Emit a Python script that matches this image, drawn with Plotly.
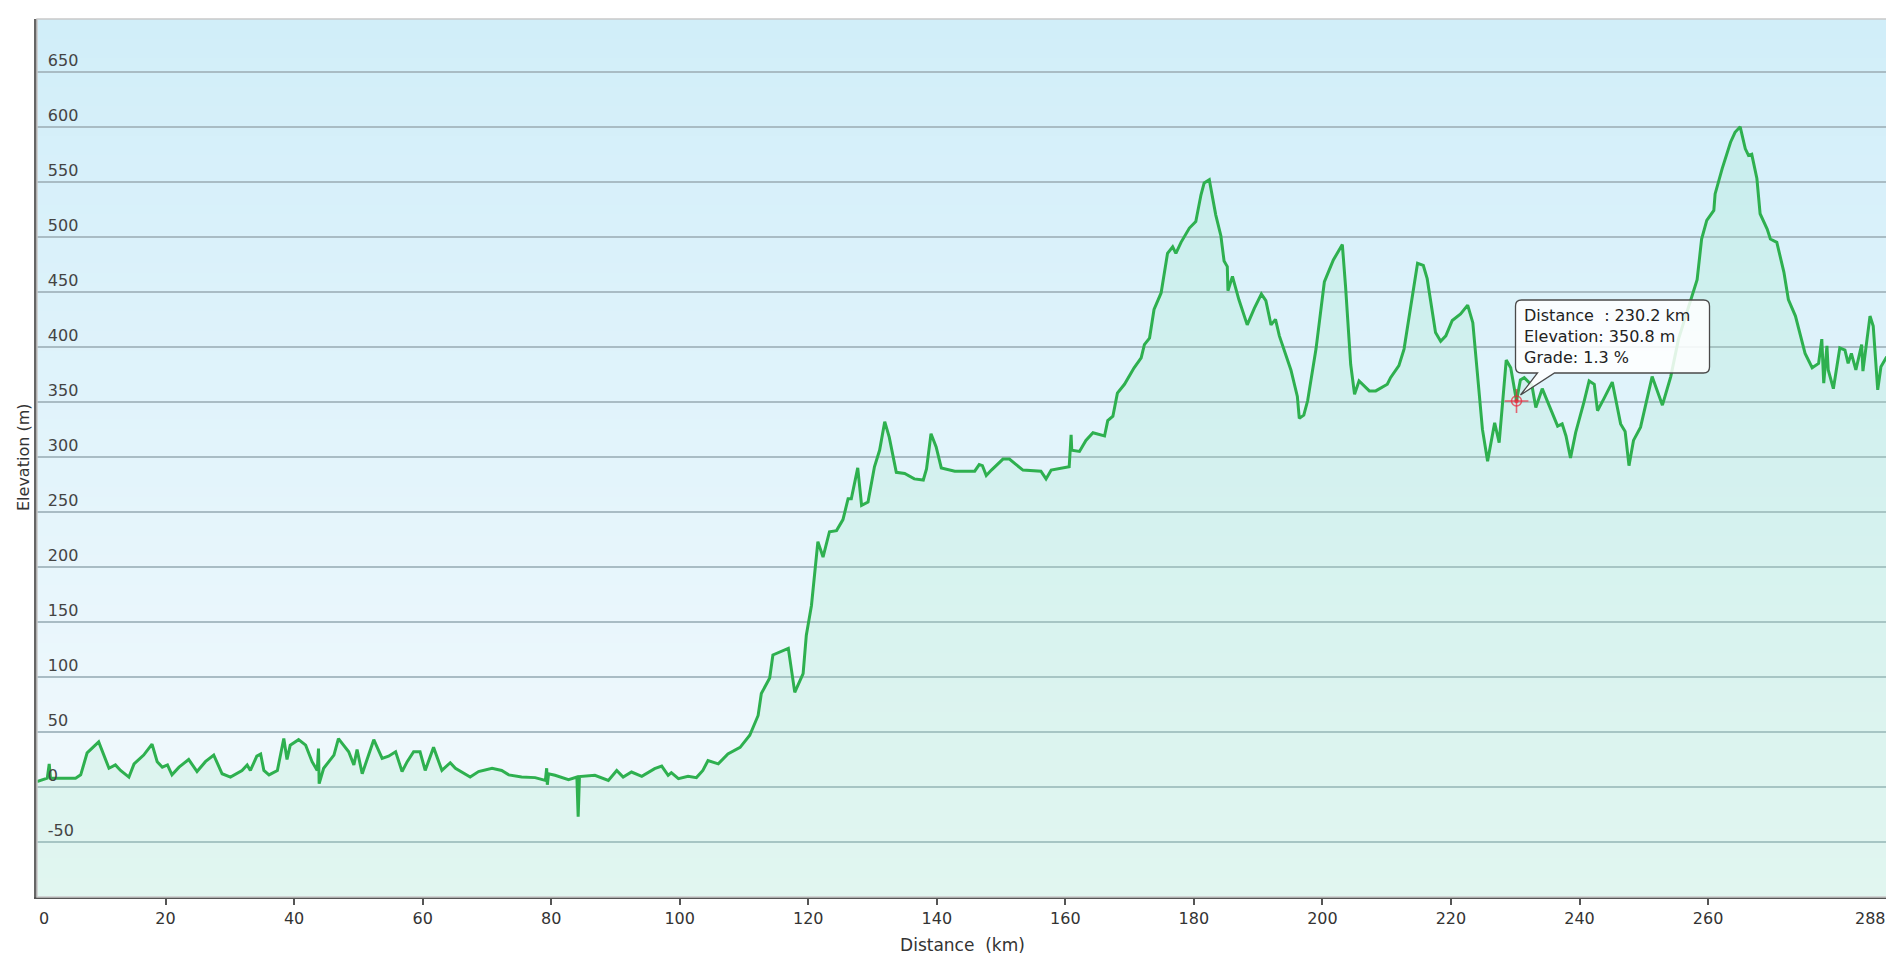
import numpy as np
import plotly.graph_objects as go

# elevation profile
distance_km = [
    0.0, 1.6, 1.9, 2.1, 2.9, 6.0, 6.8, 7.8, 9.6, 11.2, 12.2, 13.0, 14.3, 15.1, 16.6, 17.9,
    18.7, 19.5, 20.3, 21.0, 22.1, 23.6, 24.9, 26.2, 27.5, 28.8, 30.1, 31.9, 32.7, 33.2, 34.2,
    34.8, 35.3, 36.1, 37.4, 38.4, 38.9, 39.4, 40.7, 41.8, 42.8, 43.6, 43.8, 43.9, 44.6, 46.2,
    46.9, 48.5, 49.3, 49.8, 50.6, 51.6, 52.4, 53.7, 54.7, 55.8, 56.8, 57.6, 58.6, 59.6, 60.4,
    61.7, 63.0, 64.3, 65.1, 67.4, 68.7, 70.8, 72.3, 73.4, 75.4, 77.5, 79.1, 79.3, 79.4, 79.6,
    80.6, 82.7, 84.0, 84.2, 84.4, 86.8, 88.9, 90.2, 91.2, 92.5, 94.1, 96.1, 97.2, 98.2, 98.7,
    99.8, 101.3, 102.6, 103.6, 104.4, 106.0, 107.5, 109.4, 110.9, 112.2, 112.7, 114.0, 114.5,
    116.9, 117.9, 119.2, 119.7, 120.5, 121.5, 122.3, 123.3, 124.4, 125.4, 126.2, 126.7, 127.7,
    128.3, 129.3, 130.3, 131.1, 131.9, 132.6, 133.7, 135.0, 136.5, 137.9, 138.4, 139.1, 139.9,
    140.7, 142.8, 145.9, 146.6, 147.1, 147.7, 148.5, 150.3, 151.3, 153.4, 156.2, 157.0, 157.8,
    160.6, 160.9, 161.0, 162.2, 163.2, 164.3, 166.1, 166.6, 167.4, 168.1, 169.2, 170.7, 171.8,
    172.3, 173.1, 173.8, 174.9, 175.9, 176.7, 177.2, 178.0, 179.3, 180.3, 181.1, 181.6, 182.4,
    183.4, 184.2, 184.7, 185.2, 185.3, 186.0, 187.0, 188.3, 189.4, 190.5, 191.2, 192.0, 192.7,
    193.3, 195.1, 196.1, 196.4, 197.1, 197.7, 199.0, 200.3, 201.7, 203.1, 203.6, 204.4, 205.0,
    205.7, 207.3, 208.3, 209.1, 210.1, 210.6, 211.9, 212.7, 213.7, 214.8, 215.7, 216.3, 217.6,
    218.4, 219.2, 220.2, 221.5, 222.6, 223.4, 224.1, 224.9, 225.7, 226.2, 226.8, 227.5, 228.6,
    229.3, 230.2, 230.8, 231.4, 232.6, 233.2, 234.2, 235.3, 236.6, 237.3, 237.9, 238.6, 239.4,
    240.7, 241.5, 242.3, 242.8, 243.8, 245.1, 246.4, 247.1, 247.7, 248.4, 249.5, 250.5, 251.3,
    252.9, 254.2, 255.4, 256.7, 258.3, 259.0, 259.8, 260.9, 261.1, 262.2, 263.5, 264.2, 265.0,
    265.8, 266.3, 266.8, 267.6, 268.1, 269.2, 269.7, 270.7, 271.8, 272.5, 273.6, 275.1, 276.2,
    277.2, 277.7, 278.0, 278.5, 278.7, 279.5, 280.5, 281.3, 281.8, 282.3, 283.0, 283.9, 284.1,
    285.2, 285.7, 286.4, 286.9, 287.8,
]
elevation_m = [
    5, 8, 21, 8, 8, 8, 11, 31, 41, 17, 20, 15, 9, 21, 29, 39,
    23, 18, 20, 11, 18, 25, 14, 23, 29, 12, 9, 15, 20, 15, 28,
    30, 15, 11, 15, 44, 25, 38, 43, 38, 23, 15, 35, 3, 17, 29,
    44, 32, 20, 34, 12, 29, 43, 26, 28, 32, 14, 23, 32, 32, 15,
    36, 15, 22, 17, 9, 14, 17, 15, 11, 9, 8.5, 6, 17, 2, 12,
    10.6, 6.7, 9, -27, 9.5, 10.6, 6, 15, 9, 13.6, 9.7, 16.7, 19, 10.6, 13,
    7.6, 9.7, 8.5, 15, 24, 21, 30, 36, 47, 65, 85, 99, 120,
    126, 86, 103, 138, 165, 223, 209, 232, 233, 243, 262, 262, 290,
    256, 259, 291, 306, 332, 318, 286, 285, 280, 279, 289, 321, 309,
    290, 287, 287, 293, 292, 283, 288, 298, 298, 288, 287, 280, 288,
    291, 320, 306, 305, 315, 322, 319, 333, 337, 358, 366, 381, 390,
    402, 408, 434, 449, 485, 491, 485, 495, 508, 514, 538, 549, 552,
    520, 501, 478, 473, 451, 464, 443, 420, 435, 448, 442, 420, 425,
    410, 379, 355, 335, 338, 351, 398, 459, 479, 493, 455, 384, 357,
    369, 360, 360, 363, 366, 372, 383, 398, 435, 476, 474, 462, 413,
    405, 410, 424, 430, 438, 422, 374, 325, 296, 313, 331, 313, 388,
    381, 350.8, 370, 372, 365, 345, 362, 346, 328, 330, 319, 299, 322,
    350, 369, 366, 342, 353, 368, 330, 323, 292, 315, 327, 352, 373,
    347, 373, 407, 431, 461, 498, 515, 524, 539, 562, 586, 595, 600,
    580, 574, 575, 553, 521, 507, 498, 495, 468, 443, 428, 394, 381,
    385, 407, 367, 401, 379, 362, 399, 397, 385, 394, 379, 402, 378,
    428, 419, 361, 382, 391,
]

x_ticks = [0, 20, 40, 60, 80, 100, 120, 140, 160, 180, 200, 220, 240, 260, 288]
y_ticks = [-50, 0, 50, 100, 150, 200, 250, 300, 350, 400, 450, 500, 550, 600, 650]
x_range = [0, 288]
y_range = [-100, 698]

cursor_km = 230.2
cursor_elev = 350.8
cursor_grade = 1.3

FONT = "DejaVu Sans"
LINE_GREEN = "#2eb04f"
CURSOR_RED = "#e8283a"
TEXT = "#333333"

fig = go.Figure()

# baseline so the area fill runs to the bottom of the plot
fig.add_trace(go.Scatter(x=x_range, y=[y_range[0], y_range[0]], mode="lines",
                         line=dict(width=0), hoverinfo="skip", showlegend=False))

fig.add_trace(go.Scatter(
    x=distance_km, y=elevation_m, mode="lines",
    line=dict(color=LINE_GREEN, width=3),
    fill="tonexty", fillcolor="rgba(160, 232, 195, 0.22)",
    showlegend=False,
))

# cursor crosshair
fig.add_trace(go.Scatter(
    x=[cursor_km] * 3, y=[cursor_elev] * 3, mode="markers",
    marker=dict(symbol=["cross-thin-open", "circle-open", "circle"], size=[17, 10, 3],
                color=CURSOR_RED, line=dict(width=1.6, color=CURSOR_RED)),
    showlegend=False, hoverinfo="skip",
))

# vertical gradient background, light blue on top to almost white at the bottom
top_rgb = np.array([209, 238, 249])
bottom_rgb = np.array([244, 250, 253])
n_bands = 90
shapes = []
for i in range(n_bands):
    c = top_rgb + (bottom_rgb - top_rgb) * i / (n_bands - 1)
    shapes.append(dict(
        type="rect", xref="paper", yref="paper", x0=0, x1=1,
        y0=1 - (i + 1) / n_bands - 0.002, y1=1 - i / n_bands,
        fillcolor="rgb(%d,%d,%d)" % tuple(c.round().astype(int)),
        line=dict(width=0), layer="below",
    ))
shapes.append(dict(type="rect", xref="paper", yref="paper", x0=0, x1=1, y0=0, y1=1,
                   line=dict(color="#c9c9c9", width=1.5), layer="above"))

# tooltip balloon, rounded box with a pointer down to the cursor (pixel offsets)
bl, br, bb, bt, rr = -1, 193, 28, 101, 6
balloon = ("M 4 6 L 38 {bb} L {r1} {bb} Q {br} {bb} {br} {b1} L {br} {t1} Q {br} {bt} {r1} {bt} "
           "L {l1} {bt} Q {bl} {bt} {bl} {t1} L {bl} {b1} Q {bl} {bb} {l1} {bb} L 21 {bb} Z").format(
    bl=bl, br=br, bb=bb, bt=bt, l1=bl + rr, r1=br - rr, b1=bb + rr, t1=bt - rr)
shapes.append(dict(
    type="path", xref="x", yref="y", xsizemode="pixel", ysizemode="pixel",
    xanchor=cursor_km, yanchor=cursor_elev, path=balloon,
    fillcolor="rgba(255,255,255,0.86)", line=dict(color="#4a4a4a", width=1.3), layer="above",
))

fig.add_annotation(
    x=cursor_km, y=cursor_elev, xshift=5, yshift=(bb + bt) / 2,
    text="Distance  : %.1f km<br>Elevation: %.1f m<br>Grade: %.1f %%" % (cursor_km, cursor_elev, cursor_grade),
    align="left", showarrow=False, xanchor="left", yanchor="middle",
    font=dict(family=FONT, size=16, color="#222222"),
)

# plotly drops the labels at both ends of the x axis, so put them back by hand,
# nudged inside like the original does
for val, anchor in [(x_ticks[0], "left"), (x_ticks[-1], "right")]:
    fig.add_annotation(x=val, y=0, yref="paper", text=str(val), showarrow=False,
                       xanchor=anchor, yanchor="top", yshift=-10,
                       font=dict(family=FONT, size=16, color=TEXT))

# y title sits in the thin left margin
fig.add_annotation(x=0, xref="paper", xshift=-14, y=0.5, yref="paper",
                   text="Elevation (m)", textangle=-90, showarrow=False,
                   xanchor="center", yanchor="middle",
                   font=dict(family=FONT, size=16, color=TEXT))

fig.update_layout(
    width=1894, height=961,
    margin=dict(l=29, r=14, t=11, b=72),
    paper_bgcolor="white", plot_bgcolor="white",
    font=dict(family=FONT, size=16, color=TEXT),
    shapes=shapes,
    xaxis=dict(
        range=x_range, tickvals=x_ticks, showgrid=False, zeroline=False, automargin=False,
        showline=True, linecolor="#555555", linewidth=2,
        ticks="outside", ticklen=6, tickwidth=1.5, tickcolor="#555555",
        title=dict(text="Distance  (km)", font=dict(size=17), standoff=12),
    ),
    yaxis=dict(
        range=y_range, tickvals=y_ticks, ticktext=[str(v) for v in y_ticks],
        showgrid=True, gridcolor="#a9bcc4", gridwidth=1.5, automargin=False,
        zeroline=False, showline=True, linecolor="#666666", linewidth=2.5,
        ticks="", ticklabelposition="inside top", ticklabelstandoff=10,
    ),
)

fig.write_html("out.html")
